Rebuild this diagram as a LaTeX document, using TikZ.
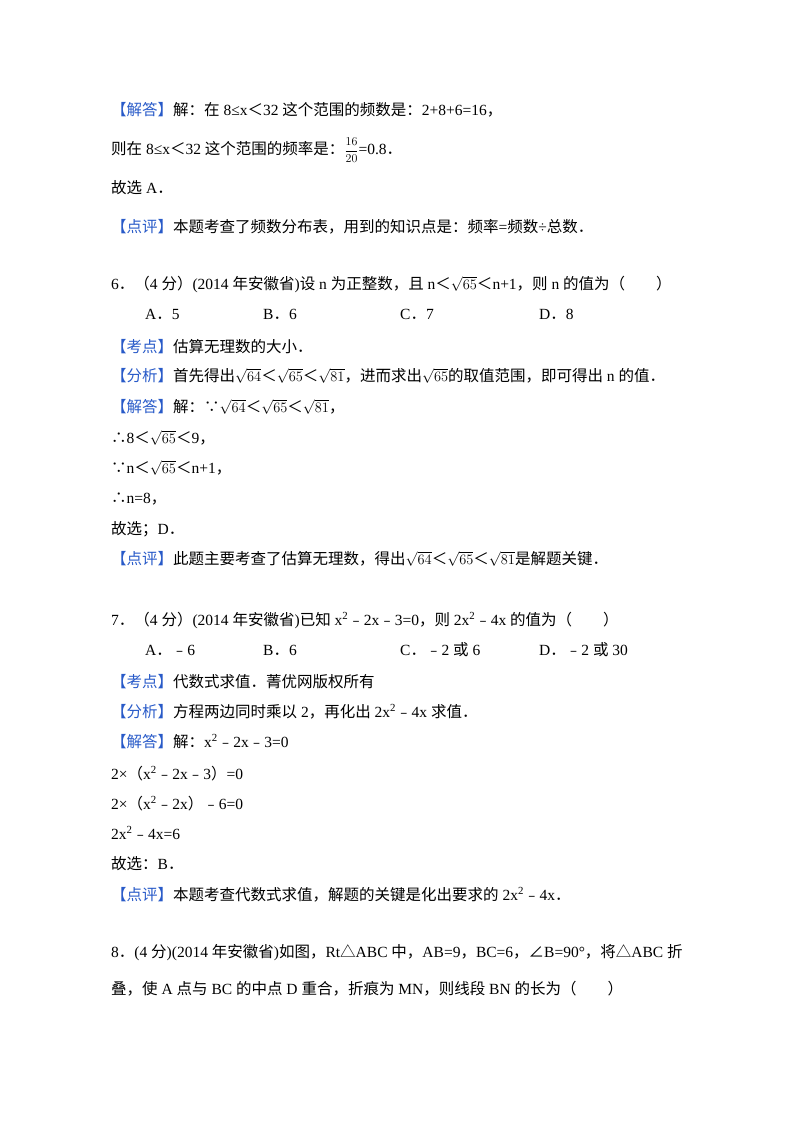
\documentclass[tikz,border=0pt]{standalone}
\usepackage{fontspec}
\setmainfont{Liberation Serif}
\newfontfamily\cjk{Noto Sans CJK SC}
\XeTeXinterchartokenstate=1
\newXeTeXintercharclass\CJKcls
\makeatletter
\def\setcls#1#2{\count@=#1\relax\loop\XeTeXcharclass\count@=\CJKcls\ifnum\count@<#2\advance\count@ 1\repeat}
\makeatother
\setcls{"4E00}{"9FFF}
\setcls{"3000}{"303F}
\setcls{"FF00}{"FFEF}
\setcls{"FE50}{"FE6F}
\setcls{"2234}{"2235}
\XeTeXcharclass"2220=\CJKcls
\XeTeXcharclass"25B3=\CJKcls
\XeTeXinterchartoks 0 \CJKcls = {\cjk}
\XeTeXinterchartoks 4095 \CJKcls = {\cjk}
\XeTeXinterchartoks \CJKcls 0 = {\rmfamily}
\XeTeXinterchartoks \CJKcls 4095 = {\rmfamily}
\definecolor{lab}{RGB}{40,90,200}
\newcommand{\lb}[1]{\textcolor{lab}{【#1】}}
\newcommand{\sq}[1]{$\sqrt{#1}$}
\newcommand{\fr}[2]{{\fontsize{13}{14}\selectfont$\displaystyle\frac{#1}{#2}$}}
\begin{document}
\begin{tikzpicture}[x=1pt,y=-1pt,t/.style={anchor=base west,inner sep=0pt,font=\fontsize{15.5}{18}\selectfont}]
\useasboundingbox (0,0) rectangle (800,1132);
\node[t] (l1) at (111,115) {\lb{解答}解：在 8≤x＜32 这个范围的频数是：2+8+6=16，};
\node[t] (l2) at (111,154) {则在 8≤x＜32 这个范围的频率是：\fr{16}{20}=0.8．};
\node[t] (l3) at (111,193) {故选 A．};
\node[t] (l4) at (111,232) {\lb{点评}本题考查了频数分布表，用到的知识点是：频率=频数÷总数．};
\node[t] (l5) at (111,289) {6．（4 分）(2014 年安徽省)设 n 为正整数，且 n＜\sq{65}＜n+1，则 n 的值为（　　）};
\node[t] (a6) at (145,319) {A．5};
\node[t] (b6) at (263,319) {B．6};
\node[t] (c6) at (400,319) {C．7};
\node[t] (d6) at (539,319) {D．8};
\node[t] (l6) at (111,352) {\lb{考点}估算无理数的大小．};
\node[t] (l7) at (111,381) {\lb{分析}首先得出\sq{64}＜\sq{65}＜\sq{81}，进而求出\sq{65}的取值范围，即可得出 n 的值．};
\node[t] (l8) at (111,412) {\lb{解答}解：∵\sq{64}＜\sq{65}＜\sq{81}，};
\node[t] (l9) at (111,443) {∴8＜\sq{65}＜9，};
\node[t] (l10) at (111,473) {∵n＜\sq{65}＜n+1，};
\node[t] (l11) at (111,503) {∴n=8，};
\node[t] (l12) at (111,534) {故选；D．};
\node[t] (l13) at (111,564) {\lb{点评}此题主要考查了估算无理数，得出\sq{64}＜\sq{65}＜\sq{81}是解题关键．};
\node[t] (l14) at (111,625) {7．（4 分）(2014 年安徽省)已知 x\textsuperscript{2}﹣2x﹣3=0，则 2x\textsuperscript{2}﹣4x 的值为（　　）};
\node[t] (a7) at (145,655) {A．﹣6};
\node[t] (b7) at (263,655) {B．6};
\node[t] (c7) at (400,655) {C．﹣2 或 6};
\node[t] (d7) at (539,655) {D．﹣2 或 30};
\node[t] (l15) at (111,687) {\lb{考点}代数式求值．菁优网版权所有};
\node[t] (l16) at (111,717) {\lb{分析}方程两边同时乘以 2，再化出 2x\textsuperscript{2}﹣4x 求值．};
\node[t] (l17) at (111,747) {\lb{解答}解：x\textsuperscript{2}﹣2x﹣3=0};
\node[t] (l18) at (111,779) {2×（x\textsuperscript{2}﹣2x﹣3）=0};
\node[t] (l19) at (111,809) {2×（x\textsuperscript{2}﹣2x）﹣6=0};
\node[t] (l20) at (111,839) {2x\textsuperscript{2}﹣4x=6};
\node[t] (l21) at (111,869) {故选：B．};
\node[t] (l22) at (111,900) {\lb{点评}本题考查代数式求值，解题的关键是化出要求的 2x\textsuperscript{2}﹣4x．};
\node[t] (l23) at (111,957) {8．(4 分)(2014 年安徽省)如图，Rt△ABC 中，AB=9，BC=6，∠B=90°，将△ABC 折};
\node[t] (l24) at (111,994) {叠，使 A 点与 BC 的中点 D 重合，折痕为 MN，则线段 BN 的长为（　　）};
\end{tikzpicture}
\end{document}
